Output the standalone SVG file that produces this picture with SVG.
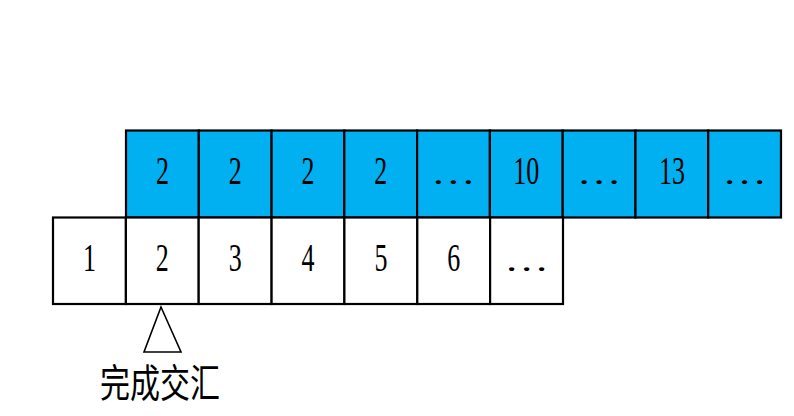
<svg xmlns="http://www.w3.org/2000/svg" width="794" height="416" viewBox="0 0 794 416">
<style>
.blue{fill:#00B0F0;stroke:#000;stroke-width:2.2}
.white{fill:#fff;stroke:#000;stroke-width:2.2}
.num{font-family:"Liberation Serif","Times New Roman",serif;font-size:40px;text-anchor:middle;fill:#000}
.ell{font-family:"Liberation Serif","Times New Roman",serif;font-size:32px;text-anchor:middle;fill:#000}
.cjk{font-family:"Liberation Sans","Noto Sans CJK SC",sans-serif;font-size:30px;text-anchor:middle;fill:#000}
</style>
<rect width="794" height="416" fill="#fff"/>
<g id="top-row">
<g id="t1"><rect class="blue" x="126" y="130.5" width="72.8" height="87"/><text class="num" transform="translate(162.4,184) scale(0.65,1)">2</text></g>
<g id="t2"><rect class="blue" x="198.8" y="130.5" width="72.8" height="87"/><text class="num" transform="translate(235.2,184) scale(0.65,1)">2</text></g>
<g id="t3"><rect class="blue" x="271.6" y="130.5" width="72.7" height="87"/><text class="num" transform="translate(308,184) scale(0.65,1)">2</text></g>
<g id="t4"><rect class="blue" x="344.3" y="130.5" width="72.8" height="87"/><text class="num" transform="translate(380.7,184) scale(0.65,1)">2</text></g>
<g id="t5"><rect class="blue" x="417.1" y="130.5" width="72.8" height="87"/><text class="ell" transform="translate(453.5,184) scale(1.4,1)">…</text></g>
<g id="t6"><rect class="blue" x="489.9" y="130.5" width="72.8" height="87"/><text class="num" transform="translate(526.3,184) scale(0.65,1)">10</text></g>
<g id="t7"><rect class="blue" x="562.7" y="130.5" width="72.8" height="87"/><text class="ell" transform="translate(599.1,184) scale(1.4,1)">…</text></g>
<g id="t8"><rect class="blue" x="635.5" y="130.5" width="72.7" height="87"/><text class="num" transform="translate(671.9,184) scale(0.65,1)">13</text></g>
<g id="t9"><rect class="blue" x="708.2" y="130.5" width="72.8" height="87"/><text class="ell" transform="translate(744.6,184) scale(1.4,1)">…</text></g>
</g>
<g id="bottom-row">
<g id="b1"><rect class="white" x="53" y="217.5" width="72.9" height="86.5"/><text class="num" transform="translate(89.4,271) scale(0.65,1)">1</text></g>
<g id="b2"><rect class="white" x="125.9" y="217.5" width="72.8" height="86.5"/><text class="num" transform="translate(162.3,271) scale(0.65,1)">2</text></g>
<g id="b3"><rect class="white" x="198.7" y="217.5" width="72.9" height="86.5"/><text class="num" transform="translate(235.2,271) scale(0.65,1)">3</text></g>
<g id="b4"><rect class="white" x="271.6" y="217.5" width="72.8" height="86.5"/><text class="num" transform="translate(308,271) scale(0.65,1)">4</text></g>
<g id="b5"><rect class="white" x="344.4" y="217.5" width="72.9" height="86.5"/><text class="num" transform="translate(380.9,271) scale(0.65,1)">5</text></g>
<g id="b6"><rect class="white" x="417.3" y="217.5" width="72.8" height="86.5"/><text class="num" transform="translate(453.7,271) scale(0.65,1)">6</text></g>
<g id="b7"><rect class="white" x="490.1" y="217.5" width="72.9" height="86.5"/><text class="ell" transform="translate(526.6,271) scale(1.4,1)">…</text></g>
</g>
<g id="pointer">
<polygon points="161,307 144,352 181,352" fill="#fff" stroke="#000" stroke-width="1.6"/>
<text class="cjk" transform="translate(160,397) scale(1,1.3)">完成交汇</text>
</g>
</svg>
